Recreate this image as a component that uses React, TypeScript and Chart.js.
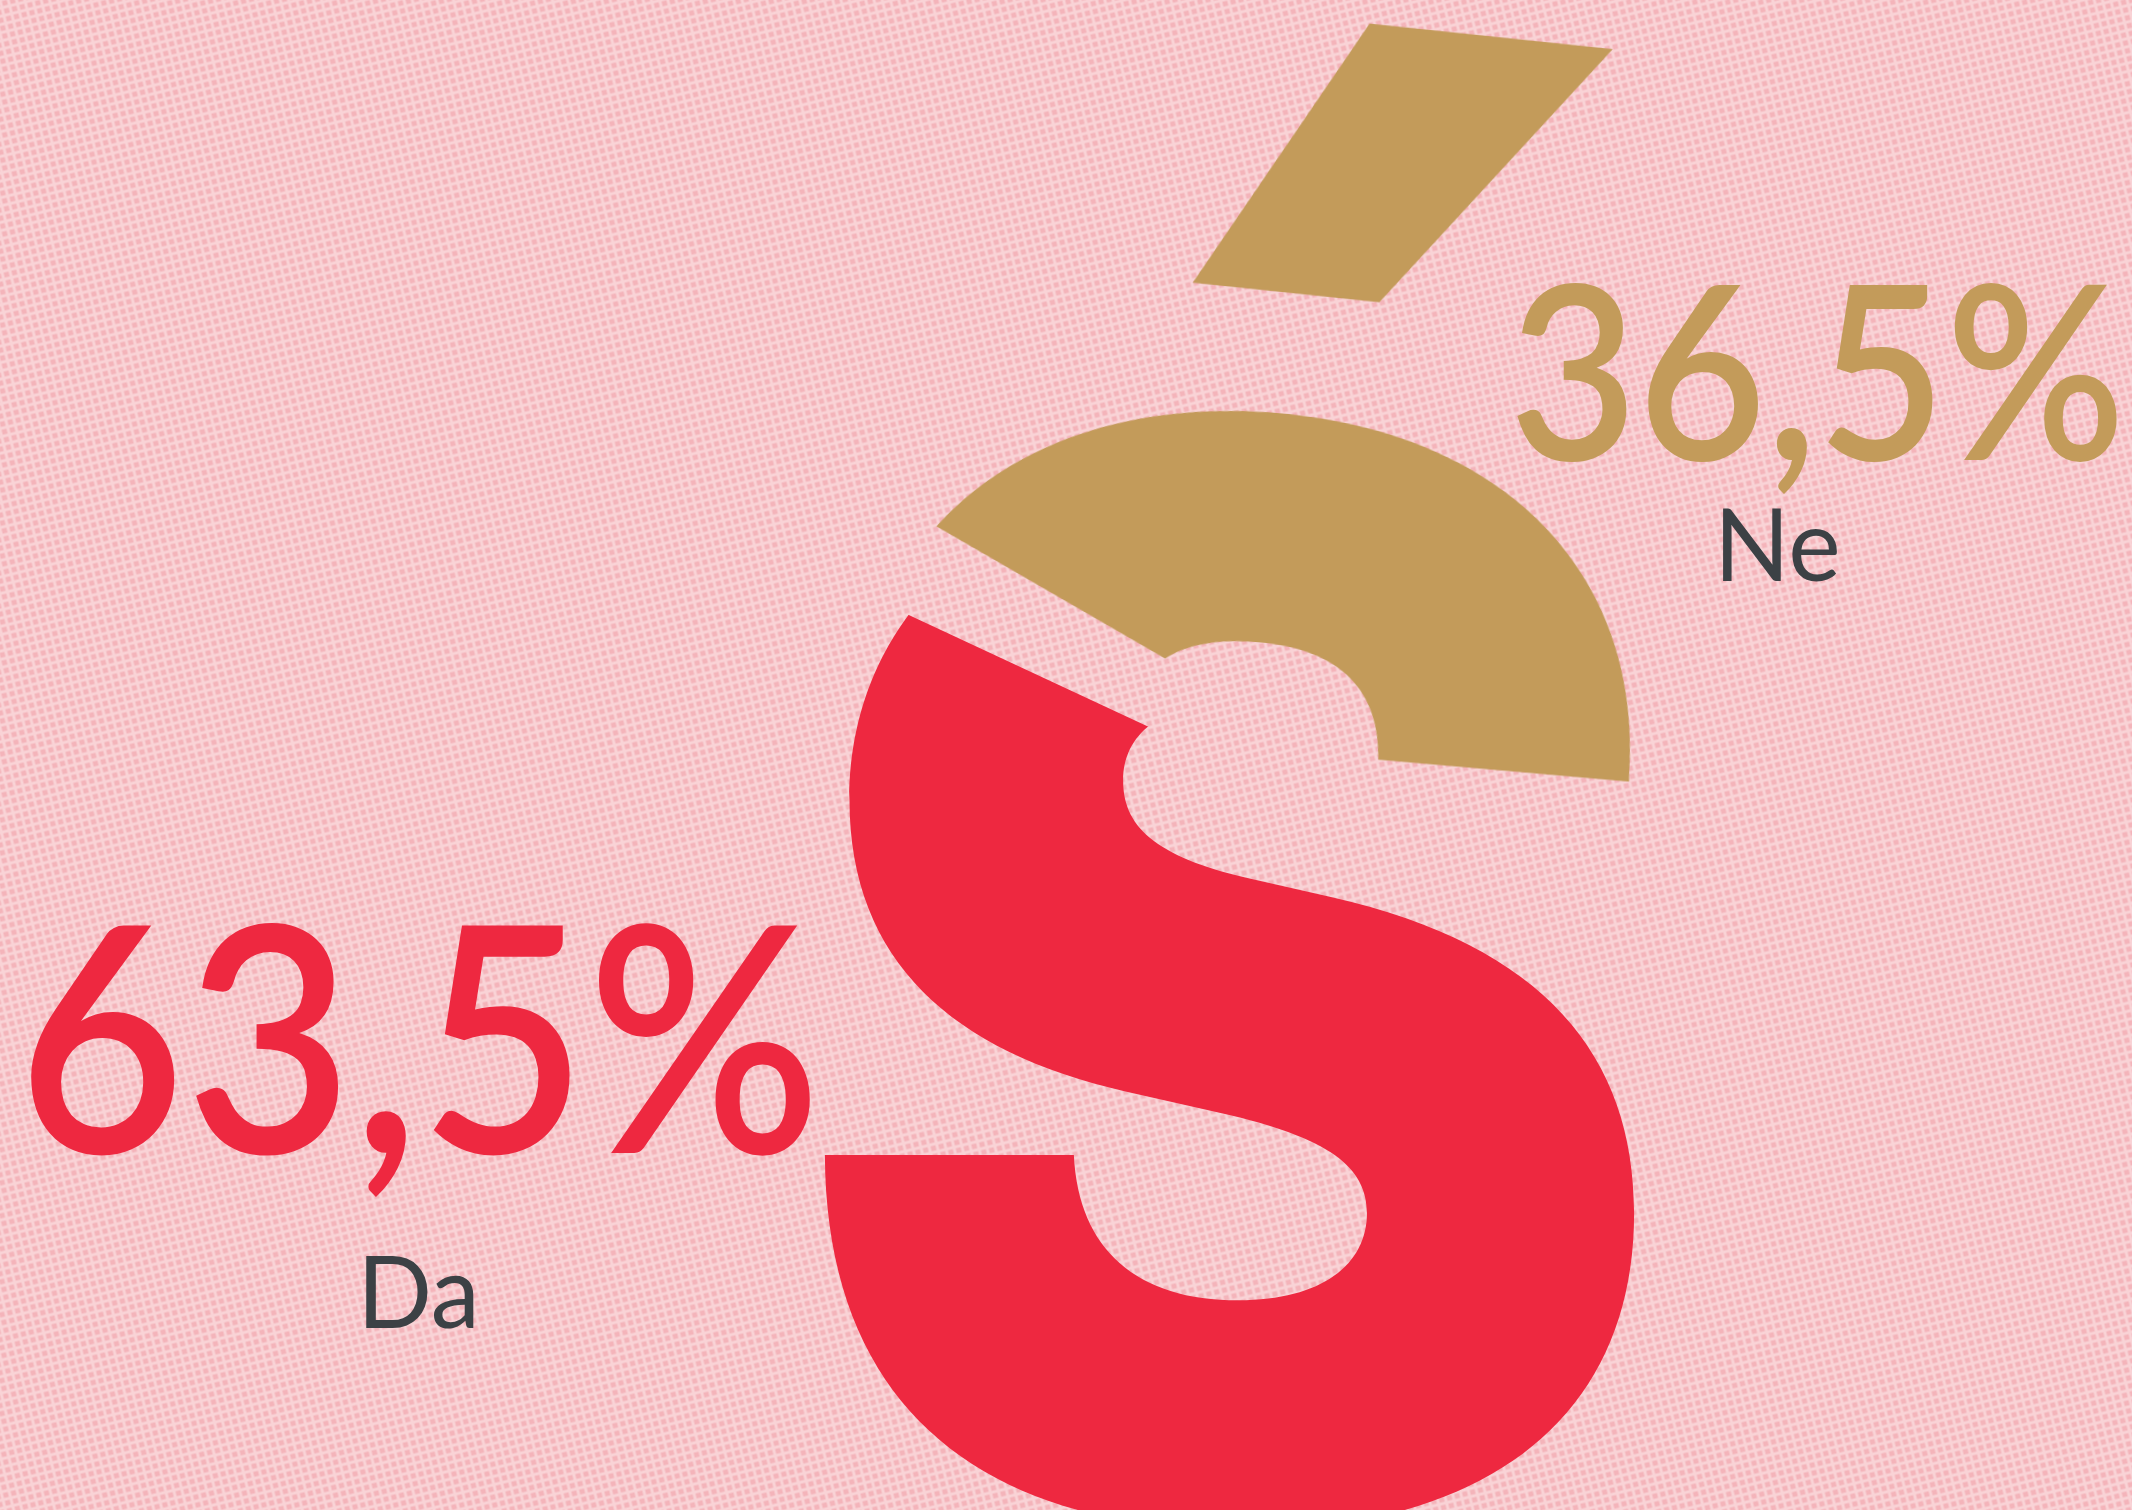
import React, { useEffect, useRef } from "react";
import { Chart, registerables } from "chart.js";

Chart.register(...registerables);

// ---- data ----
const categories = ["Da", "Ne"];
const shares = [63.5, 36.5];
const sliceColors = ["#ee2840", "#c39b5a"];

// ---- style / layout ----
const W = 2132;
const H = 1510;
const BG_LIGHT = "#f9d3d6";
const BG_DARK = "#f4b4ba";
const TEXT_DARK = "#3c4145";
const PIE_CENTER = { x: 1520, y: 900 };
const SECOND_SLICE_START_DEG = 205; // canvas angle where the "Ne" slice begins
const EXPLODE = 228; // arc offset of the exploded slice
const TILT = { deg: 5, px: 1292, py: 585, dx: 23, dy: 2 }; // tilt of the exploded piece
const GLYPH_FONT = '900 400px "Inter"';
const S_BOX = { l: 808, t: 454, r: 1638, b: 1540 };
// affine frame of the acute accent (origin, u-axis, v-axis)
const ACCENT_FRAME = { x0: 1269.3, y0: -2.1, ax: 362, ay: 37.9, bx: -85.6, by: 290.7 };
const VALUE_FONT = '600 300px "Lato"';
const NAME_FONT = '400 100px "Lato"';
const VALUE_BOXES = [
  { l: 31, t: 921, r: 813, b: 1153 },
  { l: 1516, t: 281, r: 2119, b: 460 },
];
const NAME_BOXES = [
  { l: 366, t: 1255, r: 474, b: 1328 },
  { l: 1723, t: 508, r: 1837, b: 581 },
];

type Box = { l: number; t: number; r: number; b: number };

function fitInk(ctx: CanvasRenderingContext2D, text: string, font: string, box: Box, color: string, full: boolean) {
  ctx.save();
  ctx.font = font;
  ctx.textAlign = "left";
  ctx.textBaseline = "alphabetic";
  ctx.fillStyle = color;
  const m = ctx.measureText(text);
  const inkL = -m.actualBoundingBoxLeft;
  const inkR = m.actualBoundingBoxRight;
  const inkT = -m.actualBoundingBoxAscent;
  const inkB = full ? m.actualBoundingBoxDescent : 0;
  const sx = (box.r - box.l) / (inkR - inkL);
  const sy = (box.b - box.t) / (inkB - inkT);
  ctx.translate(box.l, box.t);
  ctx.scale(sx, sy);
  ctx.fillText(text, -inkL, -inkT);
  ctx.restore();
}

function shift(b: Box, dx: number, dy: number): Box {
  return { l: b.l + dx, t: b.t + dy, r: b.r + dx, b: b.b + dy };
}

function tiltMatrix(): DOMMatrix {
  return new DOMMatrix()
    .translate(TILT.px + TILT.dx, TILT.py + TILT.dy)
    .rotate(TILT.deg)
    .translate(-TILT.px, -TILT.py);
}

function drawMask(mk: CanvasRenderingContext2D, dx: number, dy: number, inv: DOMMatrix) {
  mk.setTransform(1, 0, 0, 1, 0, 0);
  mk.clearRect(0, 0, mk.canvas.width, mk.canvas.height);
  fitInk(mk, "S", GLYPH_FONT, shift(S_BOX, dx, dy), "#000", true);
  mk.setTransform(inv);
  const f = ACCENT_FRAME;
  mk.transform(f.ax, f.ay, f.bx, f.by, f.x0, f.y0);
  fitInk(mk, "\u00B4", GLYPH_FONT, { l: 0, t: 0, r: 1, b: 1 }, "#000", true);
  mk.setTransform(1, 0, 0, 1, 0, 0);
}

const fmt = (v: number) => v.toFixed(1).replace(".", ",") + "%";

const backgroundPlugin = {
  id: "texturedBackground",
  beforeDraw(chart: any) {
    const ctx: CanvasRenderingContext2D = chart.ctx;
    const tile = document.createElement("canvas");
    tile.width = 8;
    tile.height = 8;
    const t = tile.getContext("2d")!;
    t.fillStyle = BG_LIGHT;
    t.fillRect(0, 0, 8, 8);
    t.fillStyle = BG_DARK;
    t.fillRect(1.5, 1.5, 5, 5);
    const pattern = ctx.createPattern(tile, "repeat")!;
    pattern.setTransform(new DOMMatrix().rotate(-14));
    ctx.save();
    ctx.fillStyle = pattern;
    ctx.fillRect(0, 0, chart.width, chart.height);
    ctx.restore();
  },
};

const glyphSlicesPlugin = {
  id: "glyphSlices",
  beforeDatasetsDraw(chart: any) {
    const ctx: CanvasRenderingContext2D = chart.ctx;
    const meta = chart.getDatasetMeta(0);
    const off = document.createElement("canvas");
    off.width = chart.width;
    off.height = chart.height;
    const o = off.getContext("2d")!;
    const mask = document.createElement("canvas");
    mask.width = chart.width;
    mask.height = chart.height;
    const mk = mask.getContext("2d")!;
    meta.data.forEach((arc: any) => {
      o.setTransform(1, 0, 0, 1, 0, 0);
      o.globalCompositeOperation = "source-over";
      o.clearRect(0, 0, off.width, off.height);
      const r0 = arc.outerRadius;
      arc.outerRadius = 4000;
      arc.draw(o);
      arc.outerRadius = r0;
      const mid = (arc.startAngle + arc.endAngle) / 2;
      const d = (arc.options.offset || 0) / 4;
      const dx = Math.cos(mid) * d;
      const dy = Math.sin(mid) * d;
      const T = d > 0 ? tiltMatrix() : new DOMMatrix();
      drawMask(mk, dx, dy, T.inverse());
      o.globalCompositeOperation = "destination-in";
      o.drawImage(mask, 0, 0);
      o.globalCompositeOperation = "source-over";
      ctx.save();
      ctx.transform(T.a, T.b, T.c, T.d, T.e, T.f);
      ctx.drawImage(off, 0, 0);
      ctx.restore();
    });
    return false;
  },
};

const labelsPlugin = {
  id: "sliceLabels",
  afterDraw(chart: any) {
    const ctx: CanvasRenderingContext2D = chart.ctx;
    const ds = chart.data.datasets[0];
    chart.data.labels.forEach((label: string, i: number) => {
      fitInk(ctx, fmt(ds.data[i]), VALUE_FONT, VALUE_BOXES[i], ds.backgroundColor[i], false);
      fitInk(ctx, label, NAME_FONT, NAME_BOXES[i], TEXT_DARK, false);
    });
  },
};

export default function App() {
  const ref = useRef<HTMLCanvasElement>(null);
  useEffect(() => {
    const total = shares.reduce((a, b) => a + b, 0);
    const rotation = SECOND_SLICE_START_DEG + 90 - (360 * shares[0]) / total;
    const chart = new Chart(ref.current!, {
      type: "pie",
      data: {
        labels: categories,
        datasets: [
          {
            data: shares,
            backgroundColor: sliceColors,
            borderWidth: 0,
            offset: [0, EXPLODE],
          },
        ],
      },
      options: {
        animation: false,
        responsive: false,
        events: [],
        rotation,
        radius: 80,
        layout: {
          padding: {
            left: PIE_CENTER.x - 100,
            right: W - PIE_CENTER.x - 100,
            top: PIE_CENTER.y - 100,
            bottom: H - PIE_CENTER.y - 100,
          },
        },
        plugins: { legend: { display: false }, tooltip: { enabled: false } },
      },
      plugins: [backgroundPlugin, glyphSlicesPlugin, labelsPlugin],
    });
    return () => chart.destroy();
  }, []);
  return (
    <div style={{ position: "absolute", left: 0, top: 0, width: W, height: H, overflow: "hidden" }}>
      <canvas ref={ref} width={W} height={H} style={{ display: "block" }} />
    </div>
  );
}
